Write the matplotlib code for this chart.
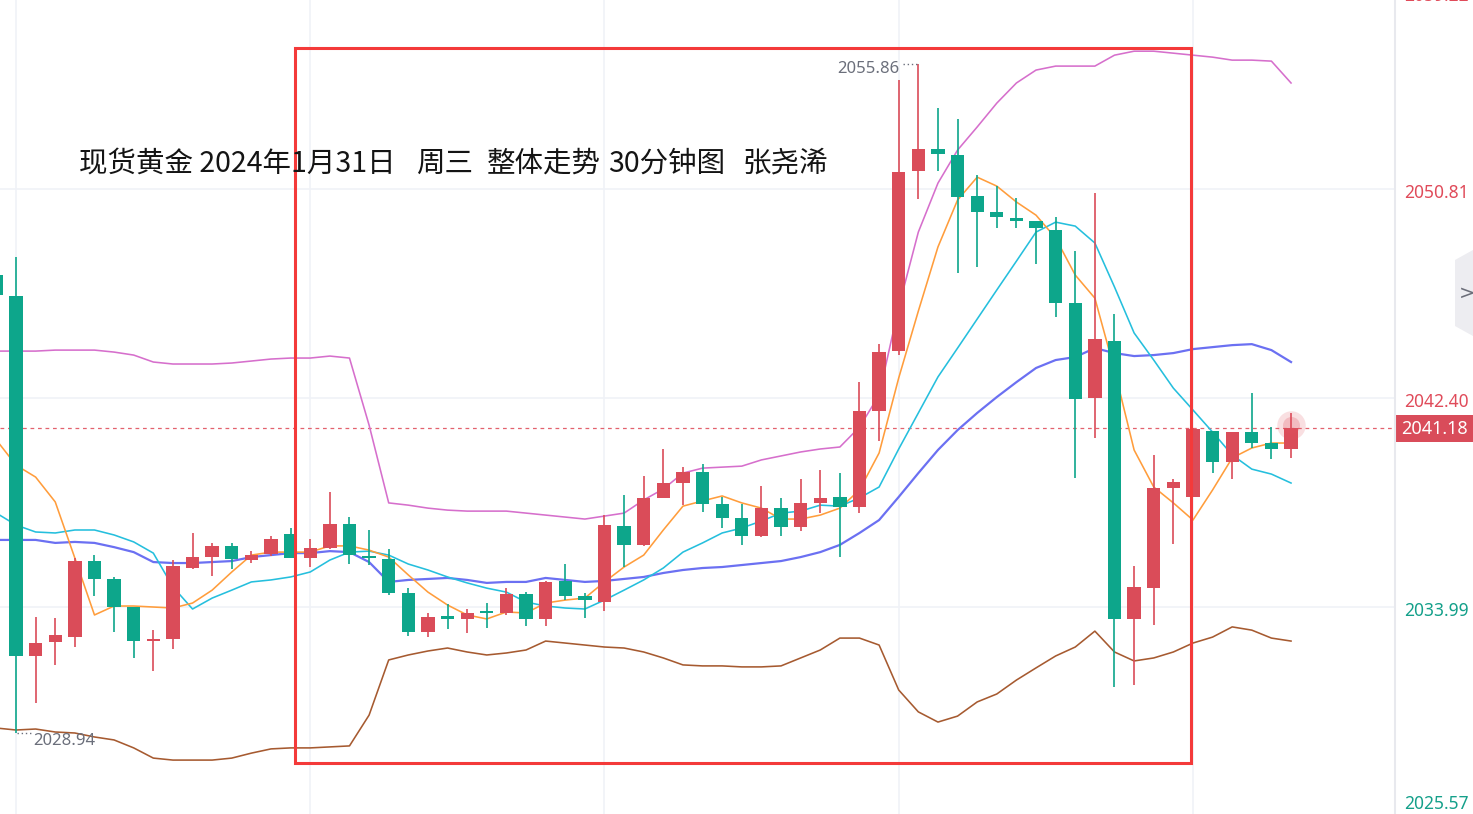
import matplotlib
matplotlib.use('Agg')
import matplotlib.pyplot as plt
import numpy as np
from matplotlib.patches import Rectangle, Polygon
from matplotlib.lines import Line2D

plt.rcParams['font.family'] = ['Noto Sans CJK SC', 'DejaVu Sans']

# ---------------- data ----------------
title_parts = ["现货黄金 2024年1月31日", "周三", "整体走势", "30分钟图", "张尧浠"]

idx = list(range(-1, 66))

open_ = [2047.35, 2046.50, 2032.02, 2032.58, 2032.78, 2035.84, 2035.12, 2033.99, 2032.62, 2032.70,
         2035.56, 2036.00, 2036.44, 2035.88, 2036.12, 2036.93, 2035.96, 2036.36, 2037.33, 2036.04,
         2035.92, 2034.55, 2032.98, 2033.59, 2033.51, 2033.79, 2033.75, 2034.51, 2033.51, 2035.04,
         2034.43, 2034.19, 2037.25, 2036.49, 2038.38, 2038.98, 2039.42, 2038.13, 2037.57, 2036.85,
         2037.97, 2037.21, 2038.18, 2038.42, 2038.01, 2041.88, 2044.29, 2051.54, 2052.42, 2052.18,
         2050.53, 2049.89, 2049.64, 2049.52, 2049.16, 2046.22, 2042.40, 2044.69, 2033.51, 2034.75,
         2038.78, 2038.42, 2041.07, 2039.83, 2041.03, 2040.59, 2040.35]
high = [2047.55, 2048.07, 2033.59, 2033.55, 2035.96, 2036.08, 2035.20, 2033.99, 2033.06, 2035.88,
        2036.97, 2036.57, 2036.57, 2036.24, 2036.85, 2037.17, 2036.73, 2038.62, 2037.61, 2037.09,
        2036.32, 2034.76, 2033.75, 2034.11, 2033.91, 2034.15, 2034.76, 2034.59, 2035.04, 2035.72,
        2034.55, 2037.69, 2038.50, 2039.26, 2040.35, 2039.62, 2039.74, 2038.42, 2038.13, 2038.86,
        2038.38, 2039.14, 2039.50, 2039.38, 2043.04, 2044.57, 2055.20, 2055.86, 2054.07, 2053.63,
        2051.37, 2050.93, 2050.45, 2049.52, 2049.68, 2048.32, 2050.65, 2045.78, 2035.64, 2040.11,
        2039.14, 2041.19, 2041.07, 2041.03, 2042.60, 2041.23, 2041.80]
low = [2046.34, 2028.94, 2030.13, 2031.66, 2032.38, 2034.43, 2032.98, 2031.94, 2031.41, 2032.30,
       2035.52, 2035.24, 2035.52, 2035.76, 2036.04, 2035.96, 2035.60, 2036.32, 2035.72, 2035.68,
       2034.47, 2032.82, 2032.78, 2033.10, 2032.94, 2033.14, 2033.67, 2033.23, 2033.23, 2034.27,
       2033.55, 2033.83, 2035.60, 2036.45, 2038.38, 2038.09, 2037.81, 2037.17, 2036.49, 2036.81,
       2036.85, 2037.05, 2037.77, 2036.00, 2037.77, 2040.67, 2044.13, 2050.41, 2051.54, 2047.43,
       2047.67, 2049.24, 2049.24, 2047.79, 2045.66, 2039.18, 2040.79, 2030.77, 2030.85, 2033.27,
       2036.53, 2038.42, 2039.38, 2039.14, 2040.39, 2039.95, 2039.99]
close = [2046.55, 2032.02, 2032.54, 2032.86, 2035.84, 2035.12, 2033.99, 2032.62, 2032.70, 2035.64,
         2036.00, 2036.44, 2035.92, 2036.08, 2036.73, 2035.96, 2036.36, 2037.33, 2036.08, 2035.96,
         2034.55, 2032.98, 2033.59, 2033.51, 2033.75, 2033.75, 2034.51, 2033.51, 2035.00, 2034.43,
         2034.27, 2037.29, 2036.49, 2038.38, 2038.98, 2039.42, 2038.13, 2037.57, 2036.85, 2037.97,
         2037.21, 2038.18, 2038.38, 2038.01, 2041.88, 2044.25, 2051.49, 2052.42, 2052.22, 2050.49,
         2049.89, 2049.68, 2049.52, 2049.24, 2046.22, 2042.36, 2044.77, 2033.51, 2034.80, 2038.78,
         2039.02, 2041.15, 2039.83, 2041.03, 2040.59, 2040.35, 2041.18]

boll_upper = [2044.29, 2044.29, 2044.29, 2044.33, 2044.33, 2044.33, 2044.25, 2044.13, 2043.85, 2043.77,
              2043.77, 2043.77, 2043.81, 2043.89, 2043.97, 2044.01, 2044.01, 2044.09, 2044.01, 2041.31,
              2038.18, 2038.09, 2037.97, 2037.89, 2037.85, 2037.85, 2037.85, 2037.77, 2037.69, 2037.61,
              2037.53, 2037.65, 2037.77, 2038.30, 2038.74, 2039.38, 2039.58, 2039.62, 2039.66, 2039.91,
              2040.07, 2040.23, 2040.35, 2040.43, 2041.23, 2042.52, 2046.06, 2049.08, 2051.05, 2052.38,
              2053.31, 2054.27, 2055.08, 2055.60, 2055.76, 2055.76, 2055.76, 2056.20, 2056.36, 2056.36,
              2056.28, 2056.20, 2056.12, 2056.00, 2056.00, 2055.96, 2055.08]
boll_mid = [2036.69, 2036.69, 2036.69, 2036.57, 2036.61, 2036.57, 2036.40, 2036.20, 2035.80, 2035.76,
            2035.76, 2035.80, 2035.84, 2036.00, 2036.08, 2036.16, 2036.16, 2036.24, 2036.20, 2035.80,
            2035.00, 2035.08, 2035.12, 2035.16, 2035.08, 2034.96, 2035.00, 2035.00, 2035.16, 2035.08,
            2035.00, 2035.04, 2035.12, 2035.20, 2035.36, 2035.48, 2035.56, 2035.60, 2035.68, 2035.76,
            2035.84, 2036.00, 2036.20, 2036.49, 2036.97, 2037.49, 2038.42, 2039.38, 2040.31, 2041.11,
            2041.80, 2042.44, 2043.04, 2043.61, 2043.93, 2044.05, 2044.41, 2044.21, 2044.09, 2044.13,
            2044.21, 2044.37, 2044.45, 2044.53, 2044.57, 2044.33, 2043.85]
boll_lower = [2029.12, 2029.04, 2029.08, 2028.96, 2028.92, 2028.76, 2028.64, 2028.32, 2027.91, 2027.83,
              2027.83, 2027.83, 2027.91, 2028.11, 2028.28, 2028.32, 2028.32, 2028.36, 2028.40, 2029.64,
              2031.86, 2032.06, 2032.22, 2032.34, 2032.18, 2032.06, 2032.14, 2032.26, 2032.62, 2032.54,
              2032.46, 2032.38, 2032.34, 2032.18, 2031.94, 2031.66, 2031.62, 2031.62, 2031.58, 2031.58,
              2031.62, 2031.94, 2032.26, 2032.74, 2032.74, 2032.46, 2030.65, 2029.77, 2029.36, 2029.60,
              2030.17, 2030.49, 2031.05, 2031.54, 2032.02, 2032.38, 2033.02, 2032.18, 2031.82, 2031.94,
              2032.18, 2032.54, 2032.78, 2033.19, 2033.06, 2032.74, 2032.62]
ma_fast = [2040.71, 2039.70, 2039.22, 2038.22, 2035.96, 2033.67, 2034.03, 2034.03, 2033.99, 2033.95,
           2034.15, 2034.67, 2035.40, 2036.08, 2036.20, 2036.20, 2036.20, 2036.45, 2036.45, 2036.28,
           2036.00, 2035.28, 2034.59, 2034.07, 2033.67, 2033.51, 2033.79, 2033.75, 2034.15, 2034.27,
           2034.35, 2035.00, 2035.60, 2036.08, 2037.09, 2038.05, 2038.26, 2038.46, 2038.18, 2037.97,
           2037.53, 2037.53, 2037.69, 2037.97, 2038.70, 2040.19, 2043.21, 2045.90, 2048.48, 2050.37,
           2051.29, 2050.93, 2050.29, 2049.76, 2048.84, 2047.35, 2046.42, 2043.53, 2040.31, 2038.82,
           2038.18, 2037.49, 2038.70, 2039.99, 2040.39, 2040.59, 2040.59]
ma_slow = [2037.77, 2037.29, 2037.01, 2036.97, 2037.09, 2037.09, 2036.89, 2036.61, 2036.16, 2034.80,
           2033.91, 2034.35, 2034.67, 2035.00, 2035.08, 2035.20, 2035.40, 2035.88, 2036.20, 2036.24,
           2036.08, 2035.72, 2035.48, 2035.20, 2034.96, 2034.75, 2034.59, 2034.19, 2034.03, 2033.95,
           2033.91, 2034.27, 2034.67, 2035.08, 2035.56, 2036.20, 2036.57, 2036.97, 2037.17, 2037.45,
           2037.77, 2037.85, 2038.09, 2038.05, 2038.38, 2038.82, 2040.35, 2041.80, 2043.25, 2044.41,
           2045.58, 2046.75, 2047.91, 2049.08, 2049.48, 2049.32, 2048.64, 2046.87, 2045.02, 2043.93,
           2042.80, 2041.92, 2041.03, 2040.11, 2039.54, 2039.34, 2038.98]

price_ticks = [2025.57, 2033.99, 2042.40, 2050.81, 2059.22]
grid_idx = [0, 15, 30, 45, 60]
last_price = 2041.18
high_label = "2055.86"
low_label = "2028.94"

# ---------------- figure ----------------
W, H = 1473, 814
AXR = 1395
fig = plt.figure(figsize=(W / 100, H / 100), dpi=100)
fig.patch.set_facecolor('white')
ax = fig.add_axes([0, 0, AXR / W, 1])
X0, X1 = -0.816, 70.30
Y0, Y1 = 2025.66, 2058.42
ax.set_xlim(X0, X1)
ax.set_ylim(Y0, Y1)
for s in ax.spines.values():
    s.set_visible(False)
ax.set_xticks([])
ax.set_yticks([])

grid_c = '#F0F2F7'
for p in price_ticks:
    ax.axhline(p, color=grid_c, lw=1.2, zorder=0)
for g in grid_idx:
    ax.axvline(g, color=grid_c, lw=1.2, zorder=0)

RED = '#DA4C59'
GREEN = '#0DA68B'

# bollinger and moving averages
ax.plot(idx, boll_upper, color='#D66FCC', lw=1.15, zorder=3)
ax.plot(idx, boll_mid, color='#6B70F2', lw=1.6, zorder=3)
ax.plot(idx, boll_lower, color='#A65A30', lw=1.15, zorder=3)
ax.plot(idx, ma_slow, color='#25BFDD', lw=1.15, zorder=4)
ax.plot(idx, ma_fast, color='#FF9D3C', lw=1.15, zorder=4)

# candles
for i, o, h, l, c in zip(idx, open_, high, low, close):
    col = RED if c >= o else GREEN
    ax.vlines(i, l, h, color=col, lw=1.2, zorder=5)
    b = min(o, c)
    hgt = max(abs(c - o), 0.1)
    ax.bar(i, hgt, bottom=b, width=0.68, color=col, zorder=6, linewidth=0)

# current price dashed line
ax.axhline(last_price, color='#E3626E', lw=0.9, dashes=(3, 3), zorder=2)

# glow on last candle
ax.scatter([idx[-1]], [last_price + 0.15], s=420, color='#E0505E', alpha=0.18, zorder=7, linewidths=0)
ax.scatter([idx[-1]], [last_price + 0.15], s=150, color='#E0505E', alpha=0.25, zorder=7, linewidths=0)

# high / low annotations
hi_i = idx[int(np.argmax(high))]
lo_i = idx[int(np.argmin(low))]
py_per_pr = H / (Y1 - Y0)
ax.plot([hi_i - 0.8, hi_i - 0.05], [max(high)] * 2, color='#6B6F7B', lw=1, dashes=(1, 2), zorder=8)
ax.text(hi_i - 0.95, max(high) - 5 / py_per_pr, high_label, ha='right', va='center',
        fontsize=12, color='#6B6F7B', family=['Noto Sans', 'DejaVu Sans'], zorder=8)
ax.plot([lo_i + 0.05, lo_i + 0.8], [min(low)] * 2, color='#6B6F7B', lw=1, dashes=(1, 2), zorder=8)
ax.text(lo_i + 0.9, min(low) - 8 / py_per_pr, low_label, ha='left', va='center',
        fontsize=12, color='#6B6F7B', family=['Noto Sans', 'DejaVu Sans'], zorder=8)

# red frame box
fig.add_artist(Rectangle((295 / W, 1 - 763 / H), (1191 - 295) / W, (763 - 48) / H,
                         transform=fig.transFigure, fill=False, edgecolor='#F43A3A', lw=2.2))

# title (pieces placed at the reference's spacing)
title_x = [79, 416, 487, 608, 742]
for tx, part in zip(title_x, title_parts):
    fig.text(tx / W, 1 - 164 / H, part, fontsize=20.5, ha='left', va='center', color='#141414')

# right price scale
fig.add_artist(Line2D([AXR / W, AXR / W], [0, 1], transform=fig.transFigure, color='#E8E9EE', lw=1.5))


def to_pix(p):
    return (Y1 - p) / (Y1 - Y0) * H


for p in price_ticks:
    yp = min(max(to_pix(p) + 4, -4), 804)
    col = '#E04B5A' if p > last_price else '#14A08A'
    fig.text(1404 / W, 1 - yp / H, f"{p:.2f}", fontsize=12.5, ha='left', va='center', color=col,
             family=['Noto Sans', 'DejaVu Sans'])

yl = to_pix(last_price)
fig.add_artist(Rectangle((AXR / W, 1 - (yl + 14) / H), (W - AXR) / W, 27 / H,
                         transform=fig.transFigure, facecolor='#D94C5A', edgecolor='none'))
fig.text(1434 / W, 1 - (yl + 1) / H, f"{last_price:.2f}", fontsize=13, ha='center', va='center',
         color='white', family=['Noto Sans', 'DejaVu Sans'])

# side button
btn = [(1455, 260), (1473, 250), (1473, 336), (1455, 326)]
fig.add_artist(Polygon([(x / W, 1 - y / H) for x, y in btn], closed=True, transform=fig.transFigure,
                       facecolor='#EDEDF1', edgecolor='none'))
fig.text(1467 / W, 1 - 293 / H, '>', fontsize=14, ha='center', va='center', color='#6B6E79',
         family=['DejaVu Sans'])

fig.savefig('out.png', dpi=100, facecolor='white')
